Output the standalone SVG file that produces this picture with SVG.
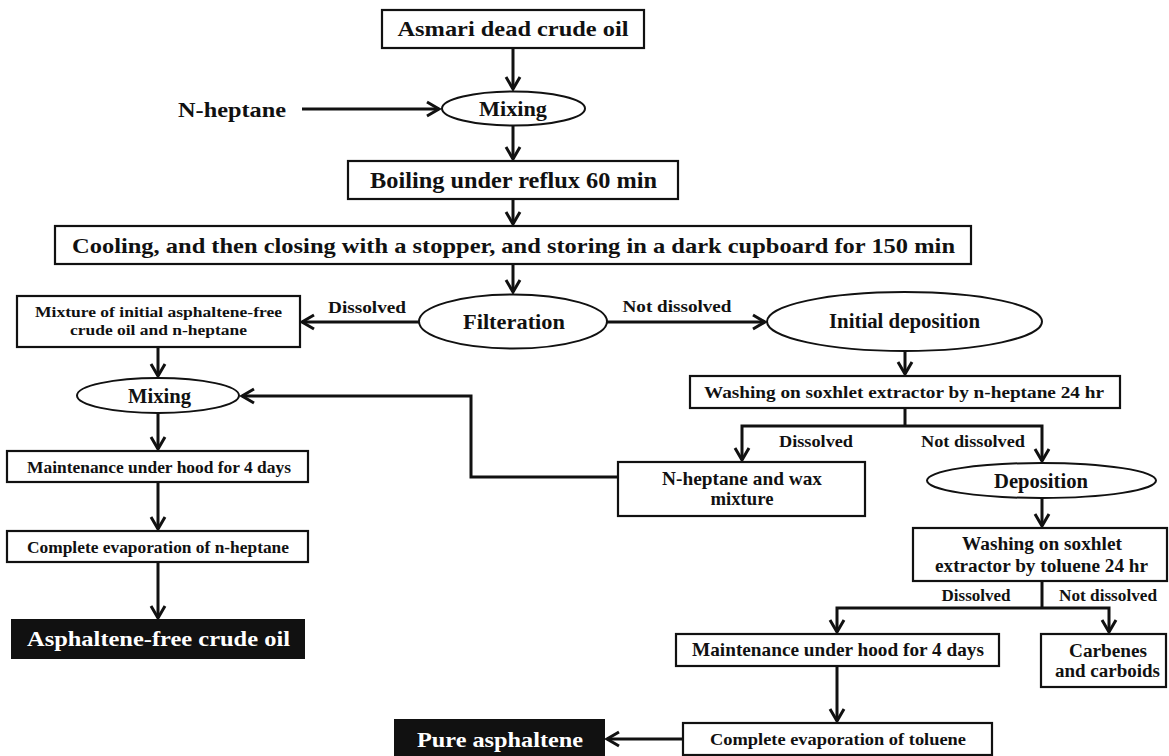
<svg xmlns="http://www.w3.org/2000/svg" width="1169" height="756" viewBox="0 0 1169 756">
<defs>
<marker id="ah" markerUnits="userSpaceOnUse" markerWidth="30" markerHeight="30" refX="0" refY="0" orient="auto" viewBox="-20 -15 30 30" overflow="visible">
<path d="M-12,-7 L0,0 L-12,7" fill="none" stroke="#111" stroke-width="3" stroke-linejoin="miter" stroke-linecap="butt"/>
</marker>
</defs>
<style>
text{font-family:"Liberation Serif","Times New Roman",serif;font-weight:bold;fill:#111;text-anchor:middle}
.box{fill:#fff;stroke:#111;stroke-width:2.2}
.ell{fill:#fff;stroke:#111;stroke-width:2}
.dark{fill:#111;stroke:#111;stroke-width:2}
.wt{fill:#fff}
.c{fill:none;stroke:#111;stroke-width:3}
.a{marker-end:url(#ah)}
</style>
<rect width="1169" height="756" fill="#fff"/>
<g id="connectors">
<line class="c a" x1="513" y1="48" x2="513" y2="89"/>
<line class="c a" x1="302" y1="109" x2="439" y2="109"/>
<line class="c a" x1="513" y1="126" x2="513" y2="159"/>
<line class="c a" x1="513" y1="199" x2="513" y2="224"/>
<line class="c a" x1="513" y1="264" x2="513" y2="292"/>
<line class="c a" x1="419" y1="322" x2="302" y2="322"/>
<line class="c a" x1="607" y1="322" x2="765" y2="322"/>
<line class="c a" x1="158" y1="347" x2="158" y2="376"/>
<line class="c a" x1="905" y1="351" x2="905" y2="374"/>
<polyline class="c" points="905,408 905,426"/>
<polyline class="c a" points="905,426 742,426 742,460"/>
<polyline class="c a" points="905,426 1042,426 1042,461"/>
<polyline class="c a" points="618,477 471,477 471,396 242,396"/>
<line class="c a" x1="158" y1="413" x2="158" y2="449"/>
<line class="c a" x1="158" y1="482" x2="158" y2="529"/>
<line class="c a" x1="158" y1="562" x2="158" y2="618"/>
<line class="c a" x1="1042" y1="498" x2="1042" y2="526"/>
<polyline class="c" points="1042,581 1042,608"/>
<polyline class="c a" points="1042,608 837,608 837,632"/>
<polyline class="c a" points="1042,608 1109,608 1109,632"/>
<line class="c a" x1="837" y1="666" x2="837" y2="721"/>
<line class="c a" x1="683" y1="739" x2="607" y2="739"/>
</g>
<g id="labels">
<text x="178" y="117" font-size="22" textLength="108" lengthAdjust="spacingAndGlyphs" style="text-anchor:start">N-heptane</text>
<text x="367" y="313" font-size="17" textLength="78" lengthAdjust="spacingAndGlyphs">Dissolved</text>
<text x="677" y="312" font-size="17" textLength="109" lengthAdjust="spacingAndGlyphs">Not dissolved</text>
<text x="816" y="447" font-size="16" textLength="74" lengthAdjust="spacingAndGlyphs">Dissolved</text>
<text x="973" y="447" font-size="16" textLength="104" lengthAdjust="spacingAndGlyphs">Not dissolved</text>
<text x="976" y="601" font-size="16" textLength="69" lengthAdjust="spacingAndGlyphs">Dissolved</text>
<text x="1108" y="601" font-size="16" textLength="98" lengthAdjust="spacingAndGlyphs">Not dissolved</text>
</g>
<g id="n-asmari">
<rect class="box" x="382" y="10" width="262" height="38"/>
<text x="513" y="36" font-size="22" textLength="231" lengthAdjust="spacingAndGlyphs">Asmari dead crude oil</text>
</g>
<g id="n-mixing1">
<ellipse class="ell" cx="513.5" cy="108.5" rx="71.5" ry="17"/>
<text x="513" y="116" font-size="21" textLength="68" lengthAdjust="spacingAndGlyphs">Mixing</text>
</g>
<g id="n-boiling">
<rect class="box" x="348" y="161" width="330" height="38"/>
<text x="513.5" y="188" font-size="23" textLength="287" lengthAdjust="spacingAndGlyphs">Boiling under reflux 60 min</text>
</g>
<g id="n-cooling">
<rect class="box" x="55" y="226" width="916" height="38"/>
<text x="513.5" y="253" font-size="22" textLength="883" lengthAdjust="spacingAndGlyphs">Cooling, and then closing with a stopper, and storing in a dark cupboard for 150 min</text>
</g>
<g id="n-filteration">
<ellipse class="ell" cx="513" cy="321.5" rx="94" ry="27"/>
<text x="514" y="329" font-size="22" textLength="102" lengthAdjust="spacingAndGlyphs">Filteration</text>
</g>
<g id="n-mixture">
<rect class="box" x="17" y="296" width="283" height="51"/>
<text x="158.5" y="317" font-size="15" textLength="247" lengthAdjust="spacingAndGlyphs">Mixture of initial asphaltene-free</text>
<text x="158.5" y="335" font-size="15" textLength="177" lengthAdjust="spacingAndGlyphs">crude oil and n-heptane</text>
</g>
<g id="n-initial-deposition">
<ellipse class="ell" cx="904.5" cy="321.5" rx="137.5" ry="29.5"/>
<text x="904.5" y="328" font-size="20" textLength="151" lengthAdjust="spacingAndGlyphs">Initial deposition</text>
</g>
<g id="n-washing-heptane">
<rect class="box" x="690" y="376" width="430" height="32"/>
<text x="904" y="398" font-size="17" textLength="400" lengthAdjust="spacingAndGlyphs">Washing on soxhlet extractor by n-heptane 24 hr</text>
</g>
<g id="n-mixing2">
<ellipse class="ell" cx="158" cy="395.5" rx="81" ry="17.5"/>
<text x="159.5" y="403" font-size="20" textLength="63" lengthAdjust="spacingAndGlyphs">Mixing</text>
</g>
<g id="n-wax">
<rect class="box" x="618" y="462" width="247" height="54"/>
<text x="742" y="485" font-size="19" textLength="160" lengthAdjust="spacingAndGlyphs">N-heptane and wax</text>
<text x="742" y="505" font-size="19" textLength="63" lengthAdjust="spacingAndGlyphs">mixture</text>
</g>
<g id="n-deposition">
<ellipse class="ell" cx="1041.5" cy="480.5" rx="114.5" ry="17.5"/>
<text x="1041" y="488" font-size="20" textLength="94" lengthAdjust="spacingAndGlyphs">Deposition</text>
</g>
<g id="n-maintenance-left">
<rect class="box" x="7" y="451" width="301" height="31"/>
<text x="159" y="473" font-size="17" textLength="264" lengthAdjust="spacingAndGlyphs">Maintenance under hood for 4 days</text>
</g>
<g id="n-evap-heptane">
<rect class="box" x="7" y="531" width="301" height="31"/>
<text x="158" y="553" font-size="17" textLength="262" lengthAdjust="spacingAndGlyphs">Complete evaporation of n-heptane</text>
</g>
<g id="n-asphaltene-free">
<rect class="dark" x="12" y="620" width="292" height="38"/>
<text class="wt" x="158.5" y="646" font-size="22" textLength="263" lengthAdjust="spacingAndGlyphs">Asphaltene-free crude oil</text>
</g>
<g id="n-washing-toluene">
<rect class="box" x="913" y="528" width="254" height="53"/>
<text x="1042" y="550" font-size="18" textLength="160" lengthAdjust="spacingAndGlyphs">Washing on soxhlet</text>
<text x="1041.5" y="572" font-size="18" textLength="213" lengthAdjust="spacingAndGlyphs">extractor by toluene 24 hr</text>
</g>
<g id="n-maintenance-right">
<rect class="box" x="676" y="634" width="323" height="32"/>
<text x="838" y="656" font-size="19" textLength="292" lengthAdjust="spacingAndGlyphs">Maintenance under hood for 4 days</text>
</g>
<g id="n-carbenes">
<rect class="box" x="1041" y="634" width="125" height="53"/>
<text x="1108" y="657" font-size="18" textLength="78" lengthAdjust="spacingAndGlyphs">Carbenes</text>
<text x="1107.5" y="677" font-size="18" textLength="105" lengthAdjust="spacingAndGlyphs">and carboids</text>
</g>
<g id="n-evap-toluene">
<rect class="box" x="683" y="723" width="309" height="32"/>
<text x="838" y="745" font-size="17" textLength="256" lengthAdjust="spacingAndGlyphs">Complete evaporation of toluene</text>
</g>
<g id="n-pure-asphaltene">
<rect class="dark" x="395" y="720" width="209" height="38"/>
<text class="wt" x="500" y="747" font-size="22" textLength="166" lengthAdjust="spacingAndGlyphs">Pure asphaltene</text>
</g>
</svg>
